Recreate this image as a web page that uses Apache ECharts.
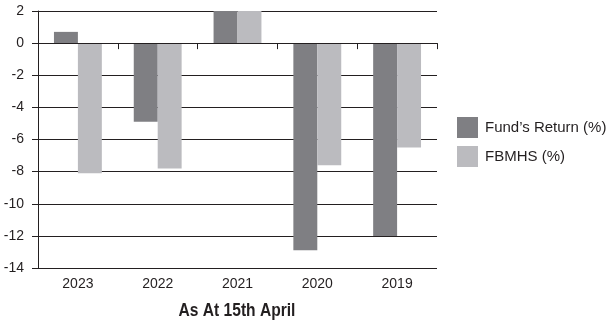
<!DOCTYPE html>
<html>
<head>
<meta charset="utf-8">
<script src="https://cdn.jsdelivr.net/npm/echarts@6/dist/echarts.min.js"></script>
<style>html,body{margin:0;padding:0;background:#fff}#c{width:614px;height:324px}</style>
</head>
<body>
<div id="c"></div>
<script>
const categories = ['2023', '2022', '2021', '2020', '2019'];
const fundReturn = [0.7, -4.9, 2.0, -12.9, -12.0];
const fbmhs = [-8.1, -7.8, 2.0, -7.6, -6.5];
const seriesNames = ['Fund\u2019s Return (%)', 'FBMHS (%)'];
const xTitle = 'As At 15th April';
const yMin = -14, yMax = 2, yStep = 2;

const FONT = '"Liberation Sans", Arial, sans-serif';
const INK = '#231f20';
const chart = echarts.init(document.getElementById('c'), null, {renderer: 'canvas'});
chart.setOption({
  animation: false,
  grid: {left: 38, right: 177, top: 11, bottom: 56, containLabel: false},
  graphic: [{
    type: 'text', x: 237, y: 311, scaleX: 0.82,
    style: {
      text: xTitle, font: 'bold 19px ' + FONT, fill: INK,
      textAlign: 'center', textVerticalAlign: 'middle'
    }
  }],
  legend: {
    orient: 'vertical', left: 457, top: 117, itemWidth: 21, itemHeight: 21, itemGap: 8,
    icon: 'rect', padding: 0,
    textStyle: {fontFamily: FONT, fontSize: 15, color: INK, padding: [0, 0, 0, 2]},
    data: seriesNames
  },
  xAxis: [{
    type: 'category', data: categories, position: 'bottom',
    axisLine: {show: false, onZero: false}, axisTick: {show: false},
    axisLabel: {fontFamily: FONT, fontSize: 14, color: INK, margin: 9},
    splitLine: {show: false}
  }, {
    type: 'category', data: categories, position: 'bottom', z: 5,
    axisLine: {show: true, onZero: true, lineStyle: {color: INK, width: 1}},
    axisTick: {show: true, length: 6, alignWithLabel: false, lineStyle: {color: INK}},
    axisLabel: {show: false}, splitLine: {show: false}
  }],
  yAxis: {
    type: 'value', min: yMin, max: yMax, interval: yStep,
    axisLine: {show: true, lineStyle: {color: INK, width: 1}},
    axisTick: {show: true, length: 6, lineStyle: {color: INK}},
    axisLabel: {fontFamily: FONT, fontSize: 14, color: INK, margin: 14},
    splitLine: {show: true, lineStyle: {color: INK, width: 1}}
  },
  series: [{
    name: seriesNames[0], type: 'bar', data: fundReturn, xAxisIndex: 0,
    barGap: '0%', barCategoryGap: '40%', itemStyle: {color: '#7f7f83'}
  }, {
    name: seriesNames[1], type: 'bar', data: fbmhs, xAxisIndex: 0,
    barGap: '0%', barCategoryGap: '40%', itemStyle: {color: '#bbbbbf'}
  }]
});
</script>
</body>
</html>
